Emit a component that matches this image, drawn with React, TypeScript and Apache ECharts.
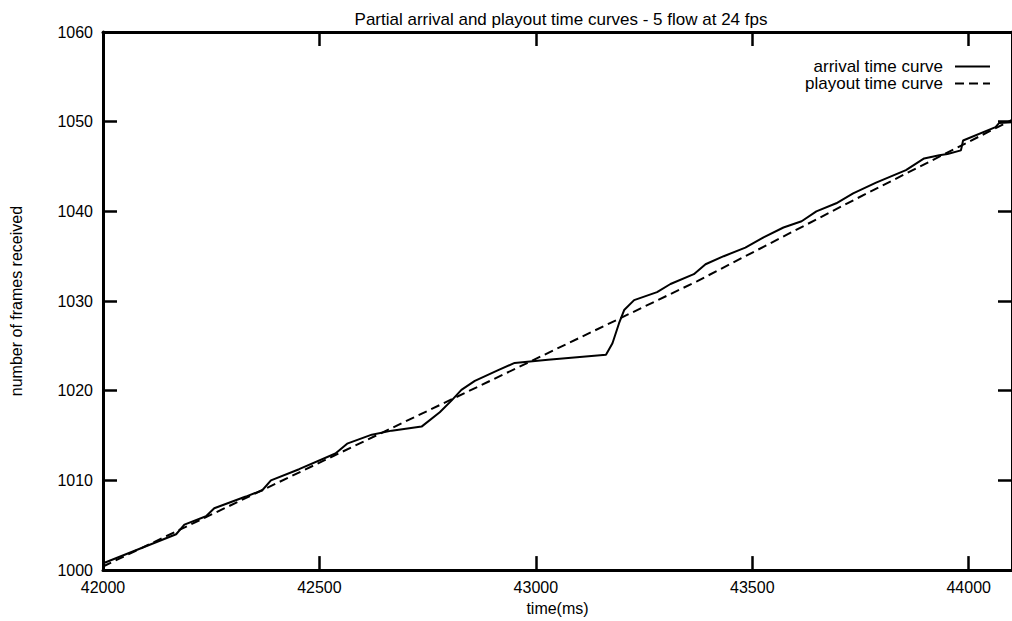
import React, { useEffect, useRef } from "react";
import * as echarts from "echarts";

const titleText = "Partial arrival and playout time curves - 5 flow at 24 fps";
const xName = "time(ms)";
const yName = "number of frames received";
const arrivalName = "arrival time curve";
const playoutName = "playout time curve";

const arrivalTime = [
  42000, 42005, 42169, 42188, 42238, 42257, 42330, 42368, 42388, 42453,
  42537, 42564, 42621, 42667, 42736, 42778, 42805, 42828, 42859, 42913,
  42951, 43028, 43162, 43177, 43192, 43204, 43227, 43280, 43311, 43365,
  43392, 43434, 43484, 43526, 43572, 43614, 43648, 43694, 43733, 43786,
  43855, 43897, 43932, 43951, 43982, 43987, 44062, 44070, 44100,
];
const arrivalFrames = [
  1000.7, 1000.85, 1004.0, 1005.07, 1006.0, 1006.9, 1008.2, 1008.9, 1010.0, 1011.25,
  1013.0, 1014.1, 1015.1, 1015.55, 1016.0, 1017.6, 1018.9, 1020.1, 1021.1, 1022.3,
  1023.1, 1023.45, 1024.0, 1025.3, 1027.5, 1029.0, 1030.1, 1031.0, 1031.9, 1033.0,
  1034.1, 1035.0, 1035.95, 1037.1, 1038.2, 1038.9, 1040.0, 1040.9, 1042.0, 1043.2,
  1044.6, 1045.9, 1046.25, 1046.4, 1046.8, 1047.9, 1049.4, 1049.85, 1049.95,
];

const playoutTime = [42000, 42890, 43372, 43740, 44100];
const playoutFrames = [1000.4, 1021.0, 1032.2, 1041.4, 1050.2];

const xMin = 42000;
const xMax = 44100;
const xInterval = 500;
const yMin = 1000;
const yMax = 1060;
const yInterval = 10;

const FONT = "'Liberation Sans', Arial, Helvetica, sans-serif";

export default function App() {
  const ref = useRef<HTMLDivElement>(null);

  useEffect(() => {
    if (!ref.current) return;
    const chart = echarts.init(ref.current, null, { renderer: "svg" });

    const arrivalData = arrivalTime.map((t, i) => [t, arrivalFrames[i]]);
    const playoutData = playoutTime.map((t, i) => [t, playoutFrames[i]]);

    const axisLine = { show: true, onZero: false, lineStyle: { color: "#000", width: 3 } };
    const axisTick = { show: true, inside: true, length: 14, lineStyle: { color: "#000", width: 2.5 } };
    const labelStyle = { color: "#000", fontSize: 16, fontFamily: FONT };
    const legendText = { color: "#000", fontSize: 17, fontFamily: FONT, padding: [0, 7, 0, 0] };

    chart.setOption({
      animation: false,
      backgroundColor: "#fff",
      title: {
        text: titleText,
        left: 556,
        textAlign: "center",
        top: 6,
        textStyle: { color: "#000", fontSize: 17, fontWeight: "normal", fontFamily: FONT },
      },
      legend: [
        {
          data: [arrivalName],
          right: 21,
          top: 58,
          align: "right",
          padding: 0,
          itemWidth: 35,
          itemHeight: 16,
          itemStyle: { opacity: 0 },
          textStyle: legendText,
        },
        {
          data: [playoutName],
          right: 21,
          top: 75,
          align: "right",
          padding: 0,
          itemWidth: 35,
          itemHeight: 16,
          itemStyle: { opacity: 0 },
          textStyle: legendText,
        },
      ],
      grid: {
        left: 103,
        top: 32,
        width: 913,
        height: 544,
        show: false,
      },
      xAxis: [
        {
          type: "value",
          position: "bottom",
          min: xMin,
          max: xMax,
          interval: xInterval,
          axisLine,
          axisTick,
          splitLine: { show: false },
          axisLabel: {
            ...labelStyle,
            margin: 9,
            showMaxLabel: false,
            formatter: (v: number) => (v % xInterval === 0 ? String(v) : ""),
          },
          name: xName,
          nameLocation: "middle",
          nameGap: 26,
          nameTextStyle: labelStyle,
        },
        {
          type: "value",
          position: "top",
          min: xMin,
          max: xMax,
          interval: xInterval,
          axisLine,
          axisTick,
          splitLine: { show: false },
          axisLabel: { show: false },
        },
      ],
      yAxis: [
        {
          type: "value",
          position: "left",
          min: yMin,
          max: yMax,
          interval: yInterval,
          axisLine,
          axisTick,
          splitLine: { show: false },
          axisLabel: { ...labelStyle, margin: 10, formatter: (v: number) => String(v) },
          name: yName,
          nameLocation: "middle",
          nameGap: 79,
          nameRotate: 90,
          nameTextStyle: labelStyle,
        },
        {
          type: "value",
          position: "right",
          min: yMin,
          max: yMax,
          interval: yInterval,
          axisLine,
          axisTick,
          splitLine: { show: false },
          axisLabel: { show: false },
        },
      ],
      series: [
        {
          name: arrivalName,
          type: "line",
          xAxisIndex: 0,
          yAxisIndex: 0,
          data: arrivalData,
          symbol: "none",
          smooth: false,
          clip: true,
          lineStyle: { color: "#000", width: 2, type: "solid" },
          itemStyle: { color: "#000" },
        },
        {
          name: playoutName,
          type: "line",
          xAxisIndex: 0,
          yAxisIndex: 0,
          data: playoutData,
          symbol: "none",
          clip: true,
          lineStyle: { color: "#000", width: 2, type: [9, 5] },
          itemStyle: { color: "#000" },
        },
      ],
    });

    return () => chart.dispose();
  }, []);

  return (
    <div
      ref={ref}
      style={{ position: "fixed", left: 0, top: 0, width: 1012, height: 621, background: "#fff" }}
    />
  );
}
